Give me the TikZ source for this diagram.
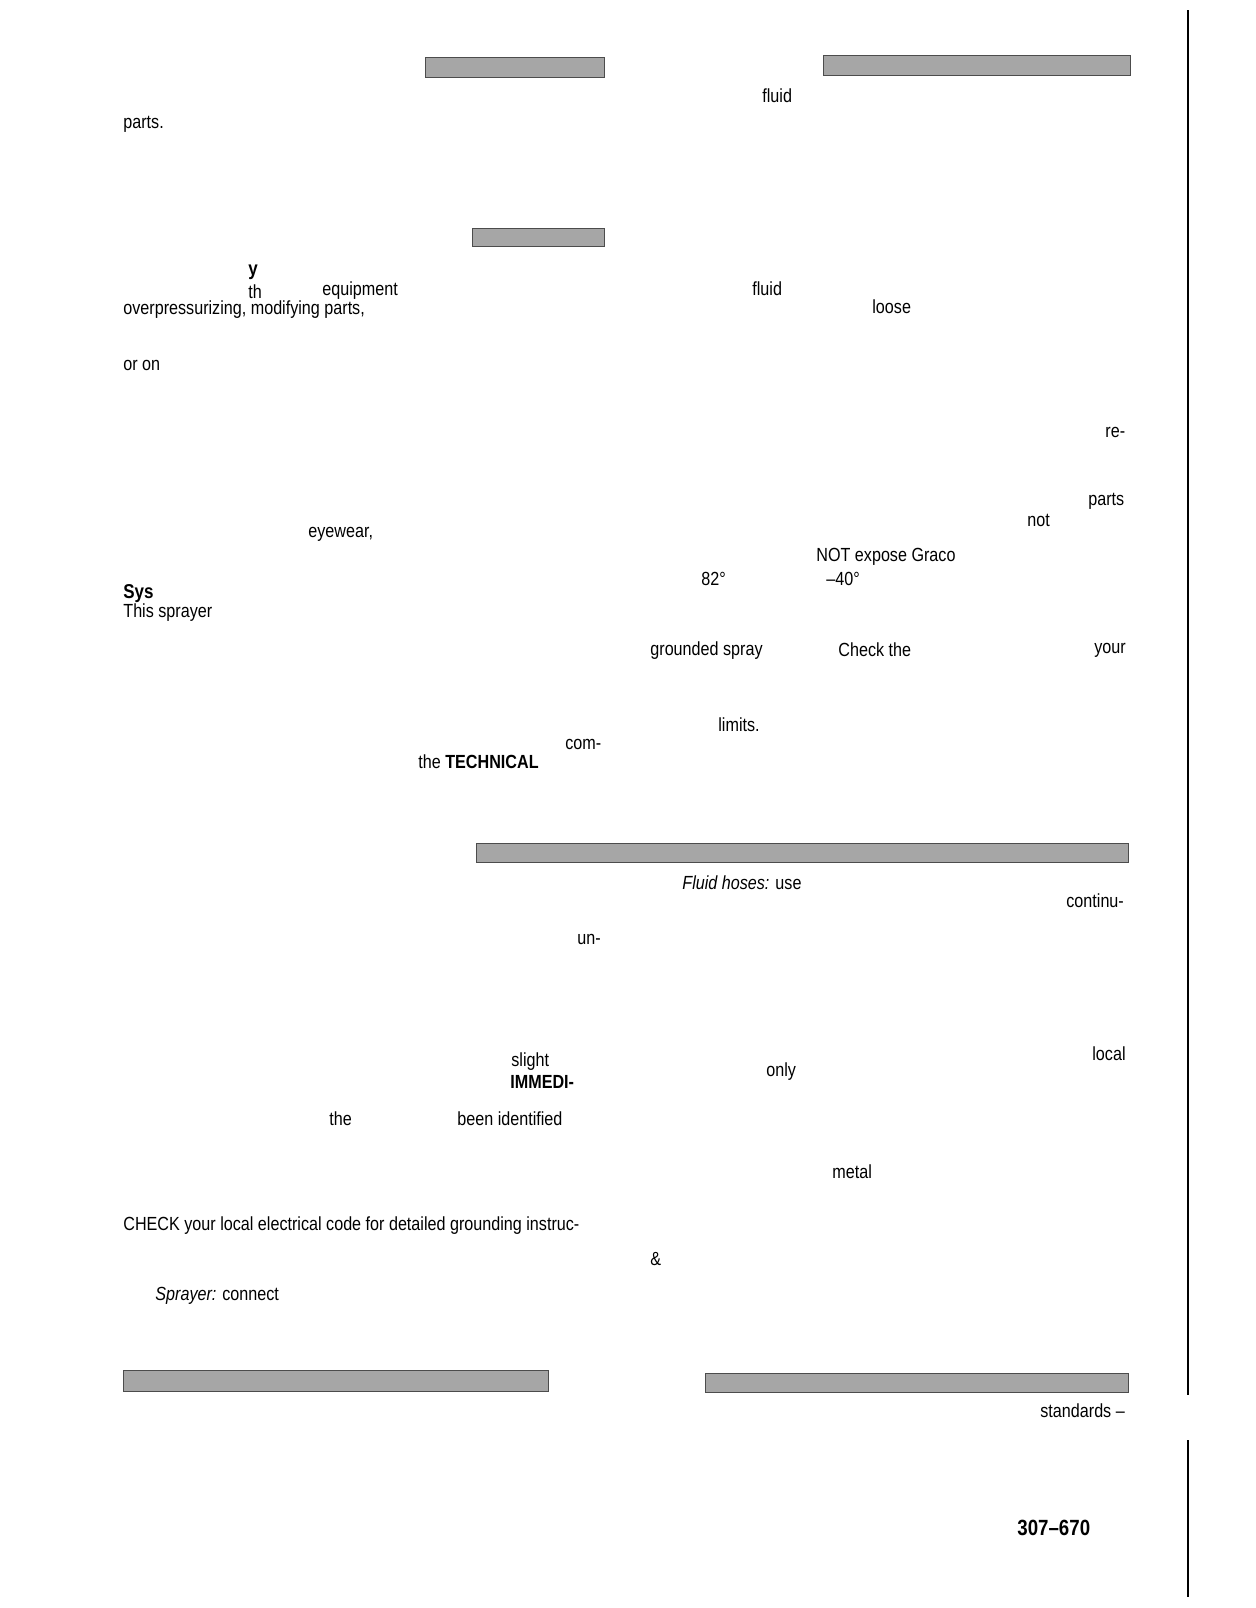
\documentclass[tikz,border=0pt]{standalone}
\usepackage{fontspec}
\setmainfont{Liberation Sans}[FakeStretch=0.85]
\begin{document}
\begin{tikzpicture}[x=0.5pt,y=-0.5pt,
  t/.style={anchor=west,inner sep=0pt,font=\fontsize{9.5}{11}\selectfont},
  bar/.style={fill=black!35,draw=black!70,line width=0.5pt}]
\useasboundingbox[fill=white] (0,0) rectangle (1256,1608);
\fill[bar] (425,57) rectangle (604,77);
\fill[bar] (823,55) rectangle (1130,75);
\fill[bar] (472,228) rectangle (604,246);
\fill[bar] (476,843) rectangle (1128,862);
\fill[bar] (123,1370) rectangle (548,1391);
\fill[bar] (705,1373) rectangle (1128,1392);
\draw[line width=0.8pt] (1188,10) -- (1188,1395);
\draw[line width=0.8pt] (1188,1440) -- (1188,1597);
\node[t] (a1) at (762,96) {fluid};
\node[t] (a2) at (123,124) {parts.};
\node[t,font=\bfseries] (a3) at (248,272) {y};
\node[t] (a4) at (248,292) {th};
\node[t] (a5) at (322,291) {equipment};
\node[t] (a6) at (123,310) {overpressurizing, modifying parts,};
\node[t] (a7) at (752,289) {fluid};
\node[t] (a8) at (872,307) {loose};
\node[t] (a9) at (123,365) {or on};
\node[t] (a10) at (1105,432) {re-};
\node[t] (a11) at (1088,501) {parts};
\node[t] (a12) at (1027,520) {not};
\node[t] (a13) at (308,534) {eyewear,};
\node[t] (a14) at (816,557) {NOT expose Graco};
\node[t] (a15) at (701,579) {82°};
\node[t] (a16) at (826,579) {–40°};
\node[t,font=\fontsize{10}{11}\bfseries] (a17) at (123,594) {Sys};
\node[t] (a18) at (123,613) {This sprayer};
\node[t] (a19) at (650,651) {grounded spray};
\node[t] (a20) at (838,650) {Check the};
\node[t] (a21) at (1094,650) {your};
\node[t] (a22) at (718,725) {limits.};
\node[t] (a23) at (565,744) {com-};
\node[t] (a24) at (418,762) {the \textbf{TECHNICAL}};
\node[t] (a25) at (682,883) {\textit{Fluid hoses:} use};
\node[t] (a26) at (1066,901) {continu-};
\node[t] (a27) at (577,939) {un-};
\node[t] (a28) at (511,1062) {slight};
\node[t] (a29) at (510,1082) {\textbf{IMMEDI-}};
\node[t] (a30) at (766,1072) {only};
\node[t] (a31) at (1092,1054) {local};
\node[t] (a32) at (329,1119) {the};
\node[t] (a33) at (457,1119) {been identified};
\node[t] (a34) at (832,1172) {metal};
\node[t] (a35) at (123,1226) {CHECK your local electrical code for detailed grounding instruc-};
\node[t] (a36) at (650,1259) {\&};
\node[t] (a37) at (155,1296) {\textit{Sprayer:} connect};
\node[t] (a38) at (1040,1411) {standards –};
\node[t,font=\fontsize{11}{12}\bfseries] (a39) at (1017,1528) {307–670};
\end{tikzpicture}
\end{document}
